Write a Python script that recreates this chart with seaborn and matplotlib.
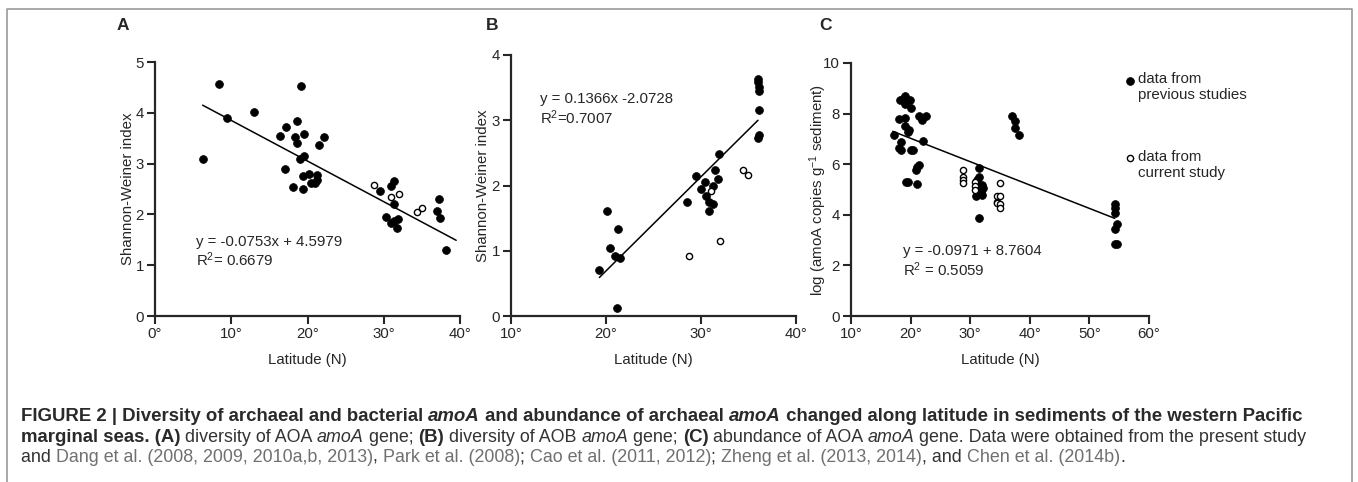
import numpy as np
import pandas as pd
import matplotlib
matplotlib.use("Agg")
import matplotlib.pyplot as plt
from matplotlib.font_manager import FontProperties
from matplotlib.lines import Line2D
from matplotlib.collections import PathCollection
from matplotlib.legend_handler import HandlerPathCollection
import seaborn as sns

# ---- (A) AOA amoA diversity vs latitude
a_prev_lat = [6.3, 8.4, 9.5, 13.0, 16.4, 17.2, 17.1, 18.05, 18.3, 18.6, 18.6, 19.1, 19.6,
              19.05, 19.6, 19.45, 19.4, 20.2, 20.5, 21.0, 21.2, 21.3, 21.5, 22.1, 29.5,
              30.25, 31.0, 31.3, 31.35, 30.9, 31.35, 31.9, 31.8, 37.25, 37.0, 37.4, 38.2]
a_prev_val = [3.10, 4.57, 3.90, 4.01, 3.55, 3.72, 2.90, 2.54, 3.53, 3.84, 3.41, 4.52, 3.58,
              3.09, 3.15, 2.75, 2.50, 2.80, 2.61, 2.61, 2.67, 2.77, 3.36, 3.52, 2.46,
              1.94, 2.56, 2.65, 2.20, 1.83, 1.87, 1.91, 1.74, 2.30, 2.06, 1.93, 1.29]
a_curr_lat = [28.7, 31.0, 32.0, 34.4, 35.0]
a_curr_val = [2.58, 2.35, 2.40, 2.04, 2.12]
a_fit_lat = [6.25, 39.5]
a_fit_val = [4.15, 1.49]

# ---- (B) AOB amoA diversity vs latitude
b_prev_lat = [19.3, 20.15, 20.45, 20.95, 21.3, 21.45, 21.15, 28.55, 29.5, 30.0, 30.45, 30.55,
              30.85, 30.85, 31.3, 31.3, 31.5, 31.75, 31.85, 35.95, 36.05, 36.1, 36.1, 36.1,
              36.1, 35.95]
b_prev_val = [0.70, 1.61, 1.04, 0.92, 1.33, 0.89, 0.13, 1.75, 2.14, 1.94, 2.05, 1.84,
              1.74, 1.61, 1.71, 1.99, 2.23, 2.10, 2.48, 3.63, 3.58, 3.51, 3.45, 3.16,
              2.78, 2.73]
b_curr_lat = [28.7, 31.0, 31.95, 34.45, 34.95]
b_curr_val = [0.92, 1.92, 1.15, 2.24, 2.16]
b_fit_lat = [19.3, 36.0]
b_fit_val = [0.59, 3.00]

# ---- (C) AOA amoA abundance vs latitude
c_prev_lat = [17.2, 18.0, 18.15, 18.65, 19.0, 19.05, 19.1, 19.05, 18.45, 18.0, 18.45, 19.95,
              20.0, 19.8, 19.6, 20.0, 20.4, 19.3, 19.5, 21.1, 21.15, 21.35, 20.95, 21.45,
              21.85, 22.05, 22.65, 37.0, 37.6, 37.5, 38.2, 31.55, 31.45, 31.2, 31.9, 32.1,
              31.8, 31.0, 32.0, 31.55, 31.15, 54.3, 54.3, 54.3, 54.7, 54.25, 54.35, 54.7]
c_prev_val = [7.16, 7.78, 8.53, 8.59, 8.70, 8.37, 7.84, 7.51, 6.88, 6.64, 6.58, 8.53,
              8.24, 7.34, 7.29, 6.55, 6.55, 5.30, 5.29, 5.21, 5.87, 5.96, 5.79, 7.92,
              7.74, 6.92, 7.89, 7.89, 7.71, 7.45, 7.17, 5.84, 5.50, 5.37, 5.17, 5.04,
              4.91, 4.75, 4.80, 3.88, 5.07, 4.42, 4.25, 4.09, 3.62, 3.43, 2.86, 2.86]
c_curr_lat = [28.75, 28.75, 28.75, 28.75, 30.85, 30.85, 30.85, 34.45, 35.05, 34.45, 34.45,
              35.0, 35.05, 35.05]
c_curr_val = [5.79, 5.50, 5.37, 5.26, 5.30, 5.14, 5.00, 4.74, 4.74, 4.51, 4.45,
              5.26, 4.41, 4.25]
c_fit_lat = [17.0, 54.25]
c_fit_val = [7.30, 3.86]

a_xticks = [0, 10, 20, 30, 40]
b_xticks = [10, 20, 30, 40]
c_xticks = [10, 20, 30, 40, 50, 60]
a_yticks = [0, 1, 2, 3, 4, 5]
b_yticks = [0, 1, 2, 3, 4]
c_yticks = [0, 2, 4, 6, 8, 10]

a_eq = "y = -0.0753x + 4.5979\nR$^2$= 0.6679"
b_eq = "y = 0.1366x -2.0728\nR$^2$=0.7007"
c_eq = "y = -0.0971 + 8.7604\nR$^2$ = 0.5059"

legend_labels = ["data from\nprevious studies", "data from\ncurrent study"]

caption = [
    [("FIGURE 2 | Diversity of archaeal and bacterial ", "b"), ("amoA", "bi"),
     (" and abundance of archaeal ", "b"), ("amoA", "bi"),
     (" changed along latitude in sediments of the western Pacific", "b")],
    [("marginal seas. (A)", "b"), (" diversity of AOA ", "r"), ("amoA", "i"), (" gene; ", "r"),
     ("(B)", "b"), (" diversity of AOB ", "r"), ("amoA", "i"), (" gene; ", "r"),
     ("(C)", "b"), (" abundance of AOA ", "r"), ("amoA", "i"),
     (" gene. Data were obtained from the present study", "r")],
    [("and ", "r"), ("Dang et al. (2008, 2009, 2010a,b, 2013)", "ref"), (", ", "r"),
     ("Park et al. (2008)", "ref"), ("; ", "r"), ("Cao et al. (2011, 2012)", "ref"),
     ("; ", "r"), ("Zheng et al. (2013, 2014)", "ref"), (", and ", "r"),
     ("Chen et al. (2014b)", "ref"), (".", "r")],
]

sns.set_style("ticks")
plt.rcParams["font.family"] = ["Liberation Sans", "DejaVu Sans"]
plt.rcParams["mathtext.fontset"] = "custom"
plt.rcParams["mathtext.rm"] = "Liberation Sans"
plt.rcParams["mathtext.it"] = "Liberation Sans:italic"
plt.rcParams["mathtext.bf"] = "Liberation Sans:bold"

FS = 10.8
W, H = 1358, 482
fig = plt.figure(figsize=(W / 100, H / 100), dpi=100)
fig.patch.set_facecolor("white")


def px_axes(left, top, right, bottom):
    return fig.add_axes([left / W, 1 - bottom / H, (right - left) / W, (bottom - top) / H])


def draw_panel(ax, prev_lat, prev_val, curr_lat, curr_val, fit_lat, fit_val,
               xticks, yticks, eq, eq_xy, ylabel, ypad):
    sns.lineplot(x=fit_lat, y=fit_val, ax=ax, color="black", lw=1.1)
    sns.scatterplot(x=prev_lat, y=prev_val, ax=ax, color="black", s=32,
                    edgecolor="black", linewidth=0.5, zorder=3)
    sns.scatterplot(x=curr_lat, y=curr_val, ax=ax, facecolor="white", s=20,
                    edgecolor="black", linewidth=1.0, zorder=3)
    ax.set_xlim(xticks[0], xticks[-1])
    ax.set_ylim(yticks[0], yticks[-1])
    ax.set_xticks(xticks)
    ax.set_xticklabels([f"{t}\u00b0" for t in xticks])
    ax.set_yticks(yticks)
    ax.set_xlabel("Latitude (N)", fontsize=FS, labelpad=8.5)
    ax.set_ylabel(ylabel, fontsize=FS, labelpad=ypad)
    ax.tick_params(direction="out", length=6, width=1.5, labelsize=FS, pad=2)
    for side in ("left", "bottom"):
        ax.spines[side].set_linewidth(1.6)
    sns.despine(ax=ax)
    ax.text(eq_xy[0], eq_xy[1], eq, fontsize=FS, ha="left", va="center", linespacing=1.15)


ax_a = px_axes(155, 62, 460, 316)
ax_b = px_axes(511, 55, 796, 316)
ax_c = px_axes(851, 63, 1149, 316)

draw_panel(ax_a, a_prev_lat, a_prev_val, a_curr_lat, a_curr_val, a_fit_lat, a_fit_val,
           a_xticks, a_yticks, a_eq, (5.4, 1.26), "Shannon-Weiner index", 0.5)
draw_panel(ax_b, b_prev_lat, b_prev_val, b_curr_lat, b_curr_val, b_fit_lat, b_fit_val,
           b_xticks, b_yticks, b_eq, (13.1, 3.17), "Shannon-Weiner index", 1.0)
draw_panel(ax_c, c_prev_lat, c_prev_val, c_curr_lat, c_curr_val, c_fit_lat, c_fit_val,
           c_xticks, c_yticks, c_eq, (18.7, 2.17), "log (amoA copies g$^{-1}$ sediment)", -4)

for lab, xpx in zip("ABC", (123, 492, 826)):
    fig.text(xpx / W, 1 - 25 / H, lab, fontsize=12.5, fontweight="bold", ha="center", va="center")

# legend: marker sits on the first line of each two-line label
handles = [c for c in ax_c.collections if isinstance(c, PathCollection)][:2]
ax_c.legend(handles, legend_labels, loc="upper left", bbox_to_anchor=(1125.6 / W, 1 - 72 / H),
            bbox_transform=fig.transFigure, frameon=False, fontsize=FS, borderpad=0,
            borderaxespad=0, handlelength=0.6, handletextpad=0.25, labelspacing=3.17,
            scatterpoints=1, handler_map={PathCollection: HandlerPathCollection(yoffsets=[1.15])})

# ---- caption
renderer = fig.canvas.get_renderer()
styles = {
    "b": dict(weight="bold", style="normal", color="#2a2a2a", size=13.4),
    "bi": dict(weight="bold", style="italic", color="#2a2a2a", size=13.4),
    "r": dict(weight="normal", style="normal", color="#333333", size=12.85),
    "i": dict(weight="normal", style="italic", color="#333333", size=12.85),
    "ref": dict(weight="normal", style="normal", color="#707070", size=12.85),
}
for line, ypx in zip(caption, (421, 441.5, 462)):
    x = 21.0
    for text, kind in line:
        st = styles[kind]
        prop = FontProperties(family="Liberation Sans", size=st["size"], weight=st["weight"],
                              style=st["style"])
        fig.text(x / W, 1 - ypx / H, text, fontproperties=prop, color=st["color"],
                 ha="left", va="baseline")
        w_full = renderer.get_text_width_height_descent("|" + text + "|", prop, ismath=False)[0]
        w_bars = renderer.get_text_width_height_descent("||", prop, ismath=False)[0]
        x += w_full - w_bars

# outer frame of the figure panel
fig.add_artist(Line2D([7 / W, 7 / W, 1352 / W, 1352 / W], [0, 1 - 9 / H, 1 - 9 / H, 0],
                      transform=fig.transFigure, color="#9a9a9a", lw=1.2))

fig.savefig("out.png", dpi=100)
